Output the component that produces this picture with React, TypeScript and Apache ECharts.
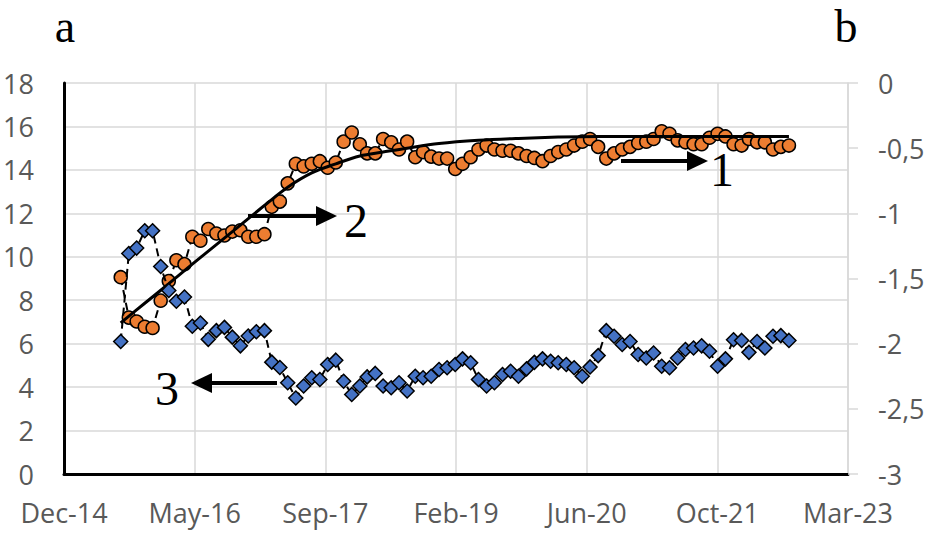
import React, { useEffect, useRef } from "react";
import * as echarts from "echarts";

// Monthly observation dates (first of each month)
const months: string[] = [
  "2015-08", "2015-09", "2015-10", "2015-11", "2015-12",
  "2016-01", "2016-02", "2016-03", "2016-04", "2016-05", "2016-06", "2016-07", "2016-08", "2016-09", "2016-10", "2016-11", "2016-12",
  "2017-01", "2017-02", "2017-03", "2017-04", "2017-05", "2017-06", "2017-07", "2017-08", "2017-09", "2017-10", "2017-11", "2017-12",
  "2018-01", "2018-02", "2018-03", "2018-04", "2018-05", "2018-06", "2018-07", "2018-08", "2018-09", "2018-10", "2018-11", "2018-12",
  "2019-01", "2019-02", "2019-03", "2019-04", "2019-05", "2019-06", "2019-07", "2019-08", "2019-09", "2019-10", "2019-11", "2019-12",
  "2020-01", "2020-02", "2020-03", "2020-04", "2020-05", "2020-06", "2020-07", "2020-08", "2020-09", "2020-10", "2020-11", "2020-12",
  "2021-01", "2021-02", "2021-03", "2021-04", "2021-05", "2021-06", "2021-07", "2021-08", "2021-09", "2021-10", "2021-11", "2021-12",
  "2022-01", "2022-02", "2022-03", "2022-04", "2022-05", "2022-06", "2022-07", "2022-08",
];

// Series 1 (orange circles, right axis)
const series1: number[] = [
  -1.49, -1.80, -1.83, -1.87, -1.88,
  -1.67, -1.52, -1.36, -1.39, -1.18, -1.21, -1.12, -1.155, -1.17, -1.14, -1.13, -1.18,
  -1.18, -1.16, -0.95, -0.91, -0.77, -0.62, -0.64, -0.62, -0.60, -0.65, -0.61, -0.45,
  -0.38, -0.47, -0.54, -0.54, -0.43, -0.455, -0.51, -0.45, -0.57, -0.53, -0.565, -0.58,
  -0.58, -0.66, -0.62, -0.57, -0.51, -0.48, -0.51, -0.52, -0.52, -0.54, -0.56, -0.575,
  -0.60, -0.56, -0.53, -0.51, -0.48, -0.45, -0.43, -0.49, -0.58, -0.54, -0.51, -0.49,
  -0.46, -0.45, -0.43, -0.37, -0.39, -0.44, -0.455, -0.47, -0.47, -0.42, -0.39, -0.41,
  -0.47, -0.48, -0.43, -0.455, -0.455, -0.51, -0.49, -0.48,
];

// Series 3 (blue diamonds, left axis)
const series3: number[] = [
  6.1, 10.15, 10.4, 11.2, 11.2,
  9.55, 8.45, 7.95, 8.15, 6.8, 6.95, 6.2, 6.6, 6.75, 6.3, 5.9, 6.35,
  6.55, 6.6, 5.15, 4.9, 4.2, 3.5, 4.05, 4.43, 4.35, 5.04, 5.24, 4.27,
  3.66, 4.05, 4.47, 4.63, 4.05, 3.97, 4.2, 3.82, 4.5, 4.43, 4.5, 4.81,
  4.89, 5.04, 5.3, 5.12, 4.35, 4.05, 4.2, 4.58, 4.73, 4.5, 4.84, 5.14,
  5.3, 5.19, 5.12, 5.04, 4.89, 4.5, 4.93, 5.45, 6.6, 6.34, 5.96, 6.1,
  5.5, 5.34, 5.57, 4.96, 4.89, 5.34, 5.73, 5.8, 5.9, 5.65, 4.96, 5.3,
  6.18, 6.15, 5.6, 6.1, 5.8, 6.34, 6.37, 6.15,
];

// Series 2 (fitted curve, right axis)
const fitMonths: string[] = [
  "2015-08", "2015-11", "2016-02", "2016-05", "2016-08", "2016-11", "2017-02", "2017-05",
  "2017-08", "2017-11", "2018-02", "2018-05", "2018-08", "2018-12", "2019-05", "2019-10",
  "2020-03", "2020-08", "2021-08", "2022-08",
];
const fitValues: number[] = [
  -1.84, -1.69, -1.54, -1.39, -1.24, -1.09, -0.94, -0.80,
  -0.69, -0.62, -0.56, -0.53, -0.50, -0.465, -0.44, -0.425,
  -0.415, -0.41, -0.41, -0.41,
];

const monthNames = ["Jan", "Feb", "Mar", "Apr", "May", "Jun", "Jul", "Aug", "Sep", "Oct", "Nov", "Dec"];
const EPOCH = Date.UTC(1899, 11, 30);
const DAY = 86400000;

function serial(ym: string): number {
  const [y, m] = ym.split("-").map(Number);
  return Math.round((Date.UTC(y, m - 1, 1) - EPOCH) / DAY);
}
function fmtDate(v: number): string {
  const d = new Date(EPOCH + v * DAY);
  return monthNames[d.getUTCMonth()] + "-" + String(d.getUTCFullYear() % 100).padStart(2, "0");
}

const LABEL_FONT = "'Open Sans', 'Noto Sans', sans-serif";
const SERIF = "'Liberation Serif', 'DejaVu Serif', serif";
const GRAY = "#595959";
const GRID = "#d9d9d9";

function arrow(x1: number, x2: number, y: number, dir: 1 | -1): any[] {
  const headLen = 21;
  const half = 10;
  const base = x2 - dir * headLen;
  return [
    {
      type: "line",
      shape: { x1, y1: y, x2: base + dir * 2, y2: y },
      style: { stroke: "#000", lineWidth: 4 },
      z: 100,
    },
    {
      type: "polygon",
      shape: { points: [[base, y - half], [x2, y], [base, y + half]] },
      style: { fill: "#000" },
      z: 100,
    },
  ];
}

function bigText(text: string, x: number, y: number, size = 48): any {
  return {
    type: "text",
    x,
    y,
    z: 100,
    style: {
      text,
      fill: "#000",
      font: `${size}px ${SERIF}`,
      textAlign: "center",
      textVerticalAlign: "middle",
    },
  };
}

export default function App() {
  const ref = useRef<HTMLDivElement>(null);

  useEffect(() => {
    document.body.style.margin = "0";
    if (!ref.current) return;
    const chart = echarts.init(ref.current, undefined, { renderer: "svg" });

    const d1 = months.map((m, i) => [serial(m), series1[i]]);
    const d3 = months.map((m, i) => [serial(m), series3[i]]);
    const dFit = fitMonths.map((m, i) => [serial(m), fitValues[i]]);

    chart.setOption({
      animation: false,
      backgroundColor: "#fff",
      grid: { left: 64, right: 83, top: 83, bottom: 61 },
      xAxis: {
        type: "value",
        min: 42000,
        max: 45000,
        interval: 500,
        axisLine: { show: true, onZero: false, lineStyle: { color: "#000", width: 3 } },
        axisTick: { show: false },
        splitLine: { show: true, lineStyle: { color: GRID, width: 1.5 } },
        axisLabel: {
          formatter: (v: number) => fmtDate(v),
          color: GRAY,
          fontFamily: LABEL_FONT,
          fontSize: 27,
          margin: 25,
        },
      },
      yAxis: [
        {
          type: "value",
          min: 0,
          max: 18,
          interval: 2,
          position: "left",
          axisLine: { show: true, lineStyle: { color: "#000", width: 3 } },
          axisTick: { show: false },
          splitLine: { show: true, lineStyle: { color: GRID, width: 1.5 } },
          axisLabel: { color: GRAY, fontFamily: LABEL_FONT, fontSize: 27, margin: 30 },
        },
        {
          type: "value",
          min: -3,
          max: 0,
          interval: 0.5,
          position: "right",
          axisLine: { show: true, lineStyle: { color: GRID, width: 1.5 } },
          axisTick: { show: true, length: 10, lineStyle: { color: GRID, width: 1.5 } },
          splitLine: { show: false },
          axisLabel: {
            color: GRAY,
            fontFamily: LABEL_FONT,
            fontSize: 27,
            margin: 30,
            formatter: (v: number) => String(v).replace(".", ","),
          },
        },
      ],
      series: [
        {
          name: "1",
          type: "line",
          yAxisIndex: 1,
          data: d1,
          symbol: "circle",
          symbolSize: 13,
          itemStyle: { color: "#ED7D31", borderColor: "#000", borderWidth: 1.5 },
          lineStyle: { color: "#000", width: 2, type: [8, 5] },
          z: 2,
        },
        {
          name: "2",
          type: "line",
          yAxisIndex: 1,
          data: dFit,
          smooth: 0.35,
          showSymbol: false,
          symbol: "none",
          lineStyle: { color: "#000", width: 3 },
          z: 3,
        },
        {
          name: "3",
          type: "line",
          yAxisIndex: 0,
          data: d3,
          symbol: "diamond",
          symbolSize: 14,
          itemStyle: { color: "#4472C4", borderColor: "#000", borderWidth: 1.5 },
          lineStyle: { color: "#000", width: 2, type: [8, 5] },
          z: 4,
        },
      ],
      graphic: [
        bigText("a", 65, 26, 46),
        bigText("b", 846, 26, 46),
        ...arrow(248, 337, 216, 1),
        bigText("2", 356, 220),
        ...arrow(621, 708, 161, 1),
        bigText("1", 722, 169),
        ...arrow(277, 191, 383, -1),
        bigText("3", 167, 388),
      ],
    });

    return () => chart.dispose();
  }, []);

  return <div ref={ref} style={{ width: 931, height: 535 }} />;
}
